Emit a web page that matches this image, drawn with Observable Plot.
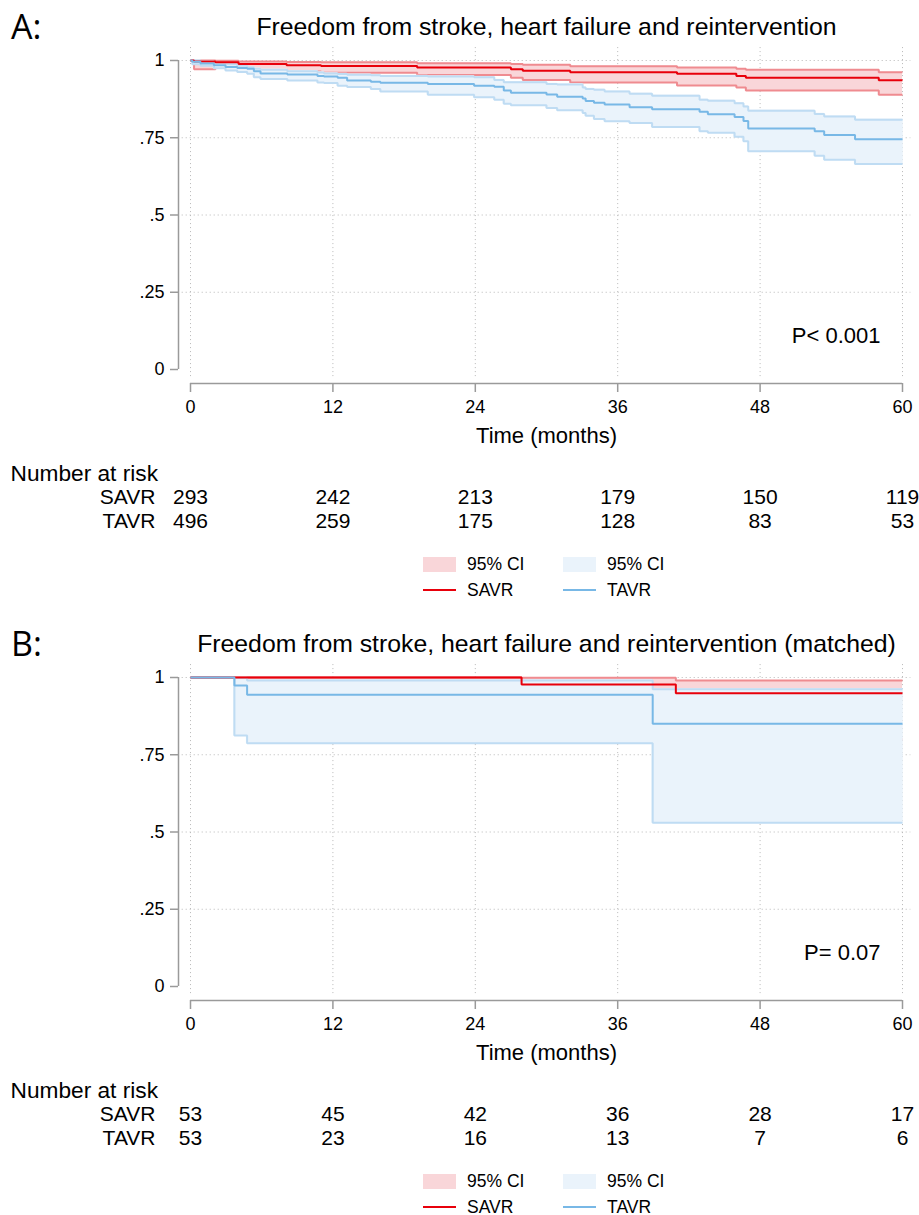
<!DOCTYPE html>
<html><head><meta charset="utf-8">
<script src="https://cdn.jsdelivr.net/npm/d3@7"></script>
<script src="https://cdn.jsdelivr.net/npm/@observablehq/plot@0.6"></script>
<style>
body{margin:0;background:#fff;font-family:"Liberation Sans",Arial,sans-serif;color:#000;}
.panel{position:absolute;left:0;width:919px;height:617px;}
.tag{position:absolute;left:11px;top:6px;font-family:"Open Sans",sans-serif;font-size:34px;line-height:40px;}
.legend{position:absolute;left:423px;top:551px;display:grid;grid-template-columns:33px 107px 33px 80px;grid-auto-rows:26px;align-items:center;font-size:17.5px;}
.legend span{padding-left:11px;}
.sw{height:15px;}
.ln{height:2px;}
</style></head>
<body>
<div class="panel" id="pA" style="top:0"><div class="tag">A:</div></div>
<div class="panel" id="pB" style="top:617px"><div class="tag">B:</div></div>
<script>
const xTicks = [0, 12, 24, 36, 48, 60];
const yTicks = [0, 0.25, 0.5, 0.75, 1];
const gridY = [0.25, 0.5, 0.75, 1];
const groups = ["SAVR", "TAVR"];

// Panel A — SAVR
const savrA_t  = [0, 0.3, 2.1, 4.05, 8.1, 11.0, 19.1, 27.0, 28.0, 32.0, 41.0, 46.0, 46.8, 58.0, 60];
const savrA_s  = [1, 0.997, 0.994, 0.989, 0.985, 0.982, 0.977, 0.972, 0.967, 0.962, 0.957, 0.950, 0.944, 0.936, 0.936];
const savrA_lo = [1, 0.972, 0.976, 0.969, 0.964, 0.960, 0.953, 0.944, 0.937, 0.929, 0.919, 0.913, 0.903, 0.889, 0.889];
const savrA_hi = [1, 1.000, 0.999, 0.997, 0.995, 0.994, 0.991, 0.989, 0.986, 0.981, 0.977, 0.973, 0.970, 0.962, 0.962];
// Panel A — TAVR
const tavrA_t  = [0, 0.15, 0.84, 1.97, 2.95, 3.94, 4.78, 5.34, 5.9, 8.16, 10.7, 11.25, 12.4, 13.2, 15.2, 16.0, 20.0, 23.9, 25.6, 26.4, 27.0, 30.0, 30.9, 33.05, 33.3, 34.0, 34.9, 37.0, 38.9, 42.9, 43.6, 45.85, 46.6, 47.0, 52.6, 53.4, 56.0, 60];
const tavrA_s  = [1, 0.996, 0.990, 0.985, 0.979, 0.976, 0.973, 0.965, 0.958, 0.955, 0.950, 0.948, 0.944, 0.935, 0.931, 0.928, 0.924, 0.918, 0.915, 0.903, 0.896, 0.890, 0.883, 0.877, 0.869, 0.863, 0.858, 0.849, 0.842, 0.834, 0.826, 0.817, 0.804, 0.780, 0.771, 0.759, 0.745, 0.745];
const tavrA_lo = [1, 0.988, 0.983, 0.975, 0.968, 0.963, 0.957, 0.946, 0.940, 0.935, 0.929, 0.927, 0.918, 0.914, 0.908, 0.900, 0.889, 0.881, 0.873, 0.860, 0.855, 0.846, 0.839, 0.830, 0.821, 0.811, 0.803, 0.798, 0.785, 0.771, 0.766, 0.753, 0.739, 0.706, 0.692, 0.679, 0.665, 0.665];
const tavrA_hi = [1, 1.000, 0.997, 0.991, 0.988, 0.983, 0.978, 0.973, 0.970, 0.965, 0.961, 0.958, 0.956, 0.954, 0.952, 0.950, 0.948, 0.946, 0.937, 0.930, 0.930, 0.924, 0.922, 0.913, 0.908, 0.905, 0.900, 0.892, 0.886, 0.873, 0.870, 0.862, 0.851, 0.837, 0.827, 0.819, 0.808, 0.808];
const riskA_savr = [293, 242, 213, 179, 150, 119];
const riskA_tavr = [496, 259, 175, 128, 83, 53];

// Panel B (matched)
const savrB_t  = [0, 27.9, 40.9, 60];
const savrB_s  = [1, 0.977, 0.949, 0.949];
const savrB_lo = [1, 0.850, 0.800, 0.800];
const savrB_hi = [1, 0.999, 0.990, 0.990];
const tavrB_t  = [0, 3.7, 4.77, 38.95, 60];
const tavrB_s  = [1, 0.974, 0.944, 0.850, 0.850];
const tavrB_lo = [1, 0.812, 0.787, 0.530, 0.530];
const tavrB_hi = [1, 0.998, 0.990, 0.962, 0.962];
const riskB_savr = [53, 45, 42, 36, 28, 17];
const riskB_tavr = [53, 23, 16, 13, 7, 6];

const titleA = "Freedom from stroke, heart failure and reintervention";
const titleB = "Freedom from stroke, heart failure and reintervention (matched)";
const pA = "P< 0.001", pB = "P= 0.07";

const C = {red: "#e8000b", redCI: "#ef8b90", redFill: "#f9d6d9",
           blue: "#78b8e6", blueCI: "#bfdcf3", blueFill: "#eaf3fb",
           axis: "#9a9a9a", grid: "#b8b8b8"};

function rows(t, s, lo, hi) { return t.map((d, i) => ({t: d, s: s[i], lo: lo[i], hi: hi[i]})); }
const fmtY = d => d === 0 ? "0" : d === 1 ? "1" : String(d).replace(/^0/, "");

function km(cfg) {
  const savr = rows(...cfg.savr), tavr = rows(...cfg.tavr);
  const rS = xTicks.map((t, i) => ({t, n: cfg.riskS[i]}));
  const rT = xTicks.map((t, i) => ({t, n: cfg.riskT[i]}));
  const step = {x: "t", curve: "step-after", strokeLinecap: "butt", strokeLinejoin: "miter"};
  const mid = {lineAnchor: "middle"};
  return Plot.plot({
    width: 919, height: 540,
    marginLeft: 190, marginRight: 17, marginTop: 60, marginBottom: 171,
    x: {domain: [0, 60]}, y: {domain: [0, 1]},
    style: {fontFamily: "Liberation Sans, Arial, sans-serif", color: "black", background: "white"},
    marks: [
      Plot.ruleY(gridY, {x1: -0.7, x2: 60.7, stroke: C.grid, strokeDasharray: "1,3"}),
      Plot.ruleX(xTicks, {y1: -0.023, y2: 1.049, stroke: C.grid, strokeDasharray: "1,3"}),
      Plot.areaY(savr, {...step, y1: "lo", y2: "hi", fill: C.redFill}),
      Plot.line(savr, {...step, y: "lo", stroke: C.redCI, strokeWidth: 2}),
      Plot.line(savr, {...step, y: "hi", stroke: C.redCI, strokeWidth: 2}),
      Plot.areaY(tavr, {...step, y1: "lo", y2: "hi", fill: C.blueFill, stroke: C.blueFill, strokeWidth: 1.5}),
      Plot.line(tavr, {...step, y: "lo", stroke: C.blueCI, strokeWidth: 2}),
      Plot.line(tavr, {...step, y: "hi", stroke: C.blueCI, strokeWidth: 2}),
      Plot.line(savr, {...step, y: "s", stroke: C.red, strokeWidth: 2}),
      Plot.line(tavr, {...step, y: "s", stroke: C.blue, strokeWidth: 2}),
      Plot.ruleX([0], {y1: 0, y2: 1, dx: -12, stroke: C.axis, strokeWidth: 1.5}),
      Plot.ruleY([0], {x1: 0, x2: 60, dy: 14, stroke: C.axis, strokeWidth: 1.5}),
      Plot.axisY(yTicks, {tickSize: 8, dx: -12, tickPadding: 6, tickFormat: fmtY, fontSize: 18, stroke: C.axis, strokeWidth: 1.5, label: null}),
      Plot.axisX(xTicks, {tickSize: 9, dy: 14, tickPadding: 8, fontSize: 18, stroke: C.axis, strokeWidth: 1.5, label: null}),
      Plot.text([cfg.title], {frameAnchor: "top", dy: -33, fontSize: 24.8, ...mid}),
      Plot.text(["Time (months)"], {frameAnchor: "bottom", dy: 66, fontSize: 22, ...mid}),
      Plot.text([cfg.p], {frameAnchor: "bottom-right", dx: -22, dy: -34, textAnchor: "end", fontSize: 22, ...mid}),
      Plot.text(["Number at risk"], {frameAnchor: "bottom-left", dx: -180, dy: 104, textAnchor: "start", fontSize: 22.7, ...mid}),
      Plot.text([groups[0]], {frameAnchor: "bottom-left", dx: -35, dy: 128, textAnchor: "end", fontSize: 21, ...mid}),
      Plot.text([groups[1]], {frameAnchor: "bottom-left", dx: -35, dy: 152, textAnchor: "end", fontSize: 21, ...mid}),
      Plot.text(rS, {x: "t", text: "n", frameAnchor: "bottom", dy: 128, fontSize: 21, ...mid}),
      Plot.text(rT, {x: "t", text: "n", frameAnchor: "bottom", dy: 152, fontSize: 21, ...mid})
    ]
  });
}

function legend() {
  const d = document.createElement("div");
  d.className = "legend";
  d.innerHTML =
    `<div class="sw" style="background:${C.redFill}"></div><span>95% CI</span>` +
    `<div class="sw" style="background:${C.blueFill}"></div><span>95% CI</span>` +
    `<div class="ln" style="background:${C.red}"></div><span>${groups[0]}</span>` +
    `<div class="ln" style="background:${C.blue}"></div><span>${groups[1]}</span>`;
  return d;
}

const elA = document.getElementById("pA");
elA.prepend(km({savr: [savrA_t, savrA_s, savrA_lo, savrA_hi], tavr: [tavrA_t, tavrA_s, tavrA_lo, tavrA_hi],
  riskS: riskA_savr, riskT: riskA_tavr, title: titleA, p: pA}));
elA.append(legend());
const elB = document.getElementById("pB");
elB.prepend(km({savr: [savrB_t, savrB_s, savrB_lo, savrB_hi], tavr: [tavrB_t, tavrB_s, tavrB_lo, tavrB_hi],
  riskS: riskB_savr, riskT: riskB_tavr, title: titleB, p: pB}));
elB.append(legend());
</script>
</body></html>
